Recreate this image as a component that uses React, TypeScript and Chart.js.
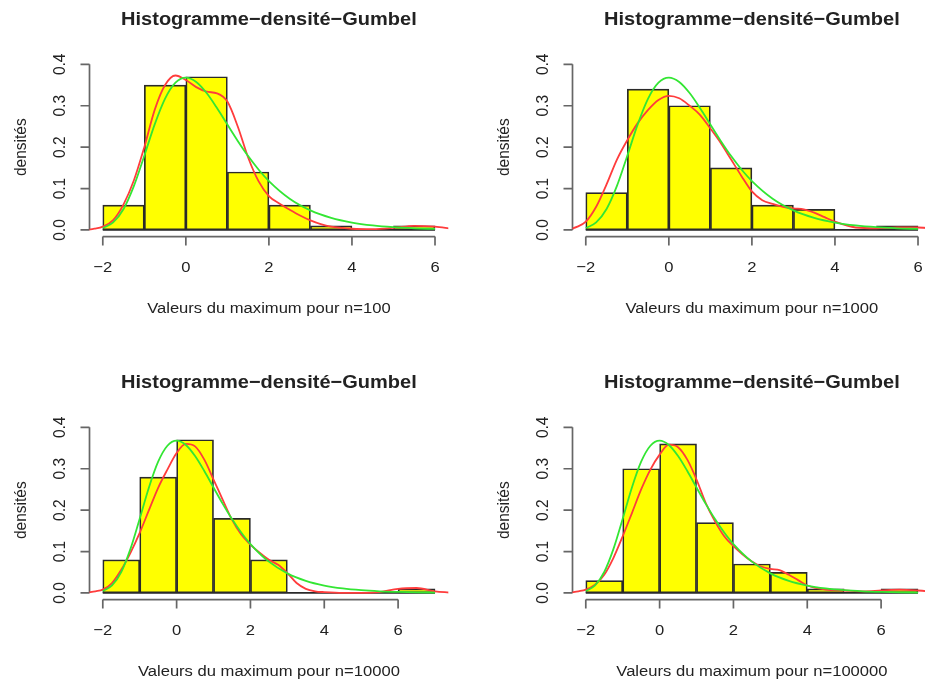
import { useEffect, useRef } from "react";
import { Chart, registerables } from "chart.js";

Chart.register(...registerables);

// ---------- data ----------
const TITLE = "Histogramme\u2212densit\u00e9\u2212Gumbel";
const Y_LABEL = "densit\u00e9s";
const X_LABELS = [
  "Valeurs du maximum pour n=100",
  "Valeurs du maximum pour n=1000",
  "Valeurs du maximum pour n=10000",
  "Valeurs du maximum pour n=100000",
];

const breaksTop = [-2, -1, 0, 1, 2, 3, 4, 5, 6];
const breaksBottom = [-2, -1, 0, 1, 2, 3, 4, 5, 6, 7];

const dens100 = [0.06, 0.35, 0.37, 0.14, 0.06, 0.01, 0, 0.01];
const dens1000 = [0.09, 0.34, 0.3, 0.15, 0.06, 0.05, 0, 0.01];
const dens10000 = [0.08, 0.28, 0.37, 0.18, 0.08, 0, 0, 0, 0.01];
const dens100000 = [0.03, 0.3, 0.36, 0.17, 0.07, 0.05, 0.01, 0, 0.01];

// kernel density estimate (red) on a common grid
const kdeGrid = [
  -2.4, -2.2, -2, -1.75, -1.5, -1.25, -1, -0.75, -0.5, -0.25, 0, 0.25, 0.5, 0.75, 1, 1.25, 1.5,
  1.75, 2, 2.25, 2.5, 2.75, 3, 3.25, 3.5, 3.75, 4, 4.5, 5, 5.5, 6, 6.5, 7, 7.4,
];
const kde100 = [
  0.0, 0.003, 0.008, 0.024, 0.062, 0.12, 0.2, 0.29, 0.35, 0.373, 0.362, 0.345, 0.334, 0.33, 0.31,
  0.25, 0.175, 0.118, 0.082, 0.064, 0.049, 0.035, 0.023, 0.014, 0.008, 0.005, 0.003, 0.002, 0.005,
  0.01, 0.008, 0.002, 0.0, 0.0,
];
const kde1000 = [
  0.001, 0.008, 0.02, 0.056, 0.11, 0.17, 0.217, 0.258, 0.29, 0.314, 0.324, 0.318, 0.3, 0.278, 0.245,
  0.21, 0.17, 0.13, 0.093, 0.072, 0.063, 0.056, 0.052, 0.05, 0.042, 0.031, 0.02, 0.006, 0.004,
  0.006, 0.006, 0.003, 0.001, 0.0,
];
const kde10000 = [
  0.001, 0.004, 0.008, 0.024, 0.056, 0.097, 0.145, 0.2, 0.254, 0.298, 0.338, 0.36, 0.354, 0.322,
  0.274, 0.225, 0.177, 0.141, 0.117, 0.097, 0.08, 0.068, 0.048, 0.024, 0.01, 0.004, 0.002, 0.0, 0.0,
  0.002, 0.01, 0.012, 0.004, 0.001,
];
const kde100000 = [
  0.001, 0.004, 0.008, 0.02, 0.044, 0.085, 0.137, 0.193, 0.25, 0.298, 0.334, 0.358, 0.352, 0.322,
  0.274, 0.217, 0.173, 0.137, 0.113, 0.093, 0.076, 0.064, 0.058, 0.055, 0.044, 0.031, 0.018, 0.008,
  0.006, 0.004, 0.006, 0.008, 0.006, 0.003,
];

// Gumbel density (green), tabulated values
const gumbelX = [
  -2, -1.75, -1.5, -1.25, -1, -0.75, -0.5, -0.25, 0, 0.25, 0.5, 0.75, 1, 1.25, 1.5, 1.75, 2, 2.5, 3,
  3.5, 4, 4.5, 5, 5.5, 6, 6.5, 7,
];
const gumbelY = [
  0.00457, 0.01824, 0.0507, 0.10644, 0.17937, 0.25489, 0.31704, 0.35558, 0.36788, 0.35743, 0.3307,
  0.29452, 0.25464, 0.21513, 0.17849, 0.14604, 0.1182, 0.07561, 0.04737, 0.02931, 0.01798, 0.01098,
  0.00669, 0.00407, 0.00247, 0.0015, 0.00091,
];

const xTicks = [-2, 0, 2, 4, 6];
const xTickLabels = ["\u22122", "0", "2", "4", "6"];
const yTicks = [0, 0.1, 0.2, 0.3, 0.4];
const yTickLabels = ["0.0", "0.1", "0.2", "0.3", "0.4"];
const yRange = [0, 0.4];

// ---------- styling ----------
const FONT = '"Liberation Sans", Arial, Helvetica, sans-serif';
const SX = 1.07; // horizontal stretch of the reference picture
const TEXT = "#222";
const AXIS = "#666";
const YELLOW = "#ffff00";
const RED = "#ff3c3c";
const GREEN = "#33e633";
const EDGE = "#2a2a2a";

const W = 483;
const H = 363;

function drawText(
  ctx: CanvasRenderingContext2D,
  text: string,
  x: number,
  y: number,
  font: string,
  rotate: boolean
) {
  ctx.save();
  ctx.translate(x, y);
  ctx.scale(SX, 1);
  if (rotate) ctx.rotate(-Math.PI / 2);
  ctx.font = font;
  ctx.fillStyle = TEXT;
  ctx.textAlign = "center";
  ctx.textBaseline = "alphabetic";
  ctx.fillText(text, 0, 0);
  ctx.restore();
}

const rAxes = {
  id: "rAxes",
  beforeDatasetsDraw(chart: any, _args: any, opts: any) {
    const { ctx, chartArea: a } = chart;
    const x = chart.scales.x;
    const y = chart.scales.y;
    ctx.save();
    ctx.strokeStyle = AXIS;
    ctx.lineWidth = 1.7;
    // x axis
    const xa = x.getPixelForValue(opts.xTicks[0]);
    const xb = x.getPixelForValue(opts.xTicks[opts.xTicks.length - 1]);
    ctx.beginPath();
    ctx.moveTo(xa, a.bottom);
    ctx.lineTo(xb, a.bottom);
    opts.xTicks.forEach((v: number) => {
      const px = x.getPixelForValue(v);
      ctx.moveTo(px, a.bottom);
      ctx.lineTo(px, a.bottom + 9);
    });
    // y axis
    const ya = y.getPixelForValue(opts.yTicks[0]);
    const yb = y.getPixelForValue(opts.yTicks[opts.yTicks.length - 1]);
    ctx.moveTo(a.left, ya);
    ctx.lineTo(a.left, yb);
    opts.yTicks.forEach((v: number) => {
      const py = y.getPixelForValue(v);
      ctx.moveTo(a.left, py);
      ctx.lineTo(a.left - 9, py);
    });
    ctx.stroke();
    ctx.restore();
  },
  afterDraw(chart: any, _args: any, opts: any) {
    const { ctx, chartArea: a } = chart;
    const x = chart.scales.x;
    const y = chart.scales.y;
    const small = `15.5px ${FONT}`;
    const big = `bold 18.7px ${FONT}`;
    const cx = (a.left + a.right) / 2;
    const cy = (a.top + a.bottom) / 2;
    drawText(ctx, opts.title, cx, a.top - 33.2, big, false);
    drawText(ctx, opts.xlab, cx, a.bottom + 76, small, false);
    drawText(ctx, opts.ylab, a.left - 63.5, cy, small, true);
    opts.xTicks.forEach((v: number, i: number) => {
      drawText(ctx, opts.xTickLabels[i], x.getPixelForValue(v), a.bottom + 35.5, small, false);
    });
    opts.yTicks.forEach((v: number, i: number) => {
      drawText(ctx, opts.yTickLabels[i], a.left - 24.5, y.getPixelForValue(v), small, true);
    });
  },
};

type PanelProps = {
  left: number;
  top: number;
  breaks: number[];
  dens: number[];
  kde: number[];
  xlab: string;
};

function Panel({ left, top, breaks, dens, kde, xlab }: PanelProps) {
  const ref = useRef<HTMLCanvasElement>(null);
  useEffect(() => {
    if (!ref.current) return;
    const xmin = breaks[0];
    const xmax = breaks[breaks.length - 1];
    const xpad = (xmax - xmin) * 0.04;
    const ypad = (yRange[1] - yRange[0]) * 0.04;
    const bars = dens.map((d, i) => ({ x: (breaks[i] + breaks[i + 1]) / 2, y: d }));
    const kdePts = kdeGrid.map((g, i) => ({ x: g, y: kde[i] }));
    const gumPts = gumbelX
      .map((g, i) => ({ x: g, y: gumbelY[i] }))
      .filter((p) => p.x >= xmin && p.x <= xmax);
    const chart = new Chart(ref.current, {
      type: "bar",
      data: {
        datasets: [
          {
            type: "line",
            data: gumPts,
            borderColor: GREEN,
            borderWidth: 1.8,
            pointRadius: 0,
            cubicInterpolationMode: "monotone",
            order: 0,
          } as any,
          {
            type: "line",
            data: kdePts,
            borderColor: RED,
            borderWidth: 1.8,
            pointRadius: 0,
            cubicInterpolationMode: "monotone",
            order: 1,
          } as any,
          {
            type: "line",
            data: [
              { x: xmin, y: 0 },
              { x: xmax, y: 0 },
            ],
            borderColor: EDGE,
            borderWidth: 1.7,
            pointRadius: 0,
            order: 2,
          } as any,
          {
            type: "bar",
            data: bars,
            backgroundColor: YELLOW,
            borderColor: EDGE,
            borderWidth: 1.7,
            borderSkipped: false,
            barPercentage: 1,
            categoryPercentage: 1,
            order: 3,
          } as any,
        ],
      },
      options: {
        responsive: false,
        animation: false,
        events: [],
        layout: { padding: { left: 89.5, right: W - 448.3, top: 57.7, bottom: H - 236.6 } },
        plugins: {
          legend: { display: false },
          tooltip: { enabled: false },
          title: { display: false },
          rAxes: {
            title: TITLE,
            xlab,
            ylab: Y_LABEL,
            xTicks,
            xTickLabels,
            yTicks,
            yTickLabels,
          },
        } as any,
        scales: {
          x: {
            type: "linear",
            min: xmin - xpad,
            max: xmax + xpad,
            offset: false,
            display: false,
            afterBuildTicks: (s: any) => {
              s.ticks = xTicks.map((v) => ({ value: v }));
            },
          },
          y: {
            type: "linear",
            min: yRange[0] - ypad,
            max: yRange[1] + ypad,
            display: false,
            afterBuildTicks: (s: any) => {
              s.ticks = yTicks.map((v) => ({ value: v }));
            },
          },
        },
      } as any,
      plugins: [rAxes as any],
    });
    return () => chart.destroy();
  }, []);
  return (
    <canvas
      ref={ref}
      width={W}
      height={H}
      style={{ position: "absolute", left, top, width: W, height: H }}
    />
  );
}

export default function App() {
  return (
    <div
      style={{
        position: "absolute",
        left: 0,
        top: 0,
        width: 925,
        height: 679,
        overflow: "hidden",
        background: "#ffffff",
      }}
    >
      <Panel left={0} top={0} breaks={breaksTop} dens={dens100} kde={kde100} xlab={X_LABELS[0]} />
      <Panel left={W} top={0} breaks={breaksTop} dens={dens1000} kde={kde1000} xlab={X_LABELS[1]} />
      <Panel left={0} top={H} breaks={breaksBottom} dens={dens10000} kde={kde10000} xlab={X_LABELS[2]} />
      <Panel left={W} top={H} breaks={breaksBottom} dens={dens100000} kde={kde100000} xlab={X_LABELS[3]} />
    </div>
  );
}
